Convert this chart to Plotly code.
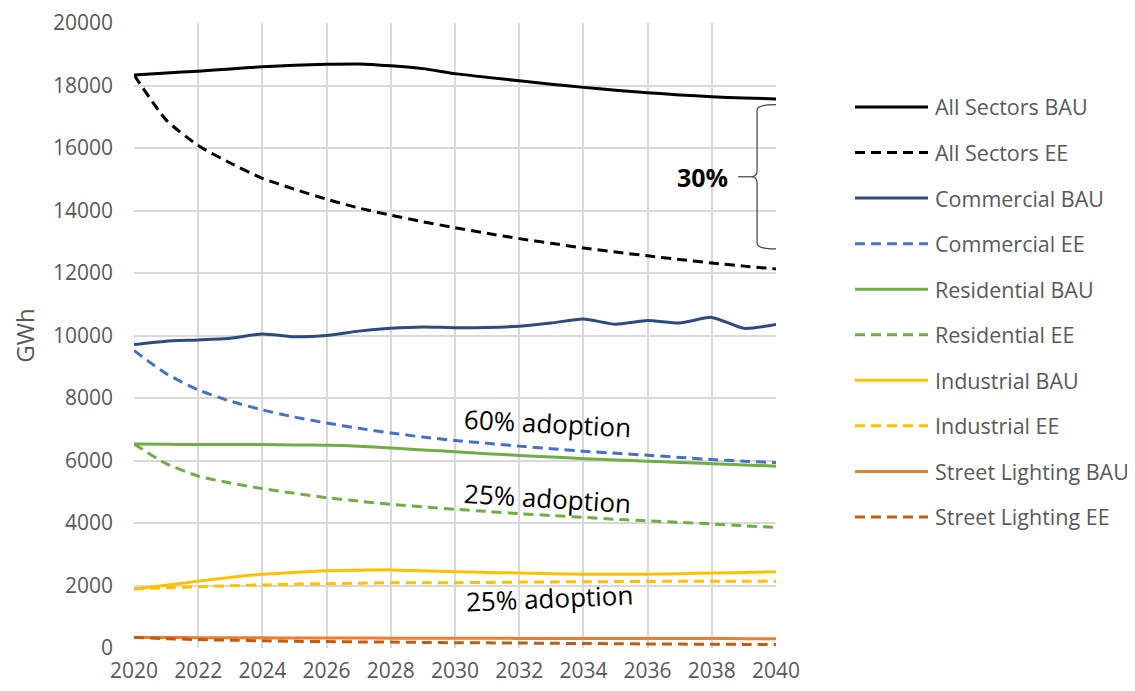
import plotly.graph_objects as go

years = list(range(2020, 2041))

all_bau = [18340, 18400, 18460, 18530, 18600, 18650, 18680, 18690, 18630, 18540, 18380,
           18260, 18150, 18040, 17940, 17850, 17770, 17700, 17640, 17600, 17570]
all_ee = [18340, 16900, 16080, 15520, 15030, 14680, 14360, 14080, 13850, 13640, 13450,
          13270, 13100, 12950, 12800, 12670, 12550, 12430, 12320, 12220, 12130]
com_bau = [9714, 9820, 9860, 9915, 10050, 9960, 10000, 10140, 10230, 10275, 10250,
           10260, 10300, 10400, 10530, 10360, 10480, 10400, 10580, 10230, 10350]
com_ee = [9520, 8780, 8260, 7900, 7620, 7390, 7200, 7030, 6880, 6750, 6640,
          6550, 6460, 6380, 6300, 6230, 6170, 6100, 6030, 5980, 5930]
res_bau = [6530, 6520, 6510, 6510, 6510, 6500, 6490, 6460, 6400, 6340, 6280,
           6220, 6160, 6110, 6060, 6020, 5980, 5940, 5900, 5860, 5820]
res_ee = [6530, 5900, 5500, 5280, 5100, 4950, 4810, 4700, 4600, 4520, 4440,
          4370, 4300, 4240, 4180, 4120, 4070, 4020, 3970, 3910, 3860]
ind_bau = [1890, 2010, 2140, 2260, 2360, 2420, 2470, 2490, 2500, 2470, 2440,
           2420, 2400, 2380, 2360, 2360, 2360, 2380, 2400, 2420, 2440]
ind_ee = [1890, 1930, 1960, 1990, 2020, 2040, 2060, 2075, 2090, 2090, 2090,
          2100, 2110, 2115, 2120, 2125, 2130, 2135, 2140, 2140, 2140]
st_bau = [340, 335, 330, 328, 325, 323, 320, 318, 316, 314, 312,
          310, 308, 306, 305, 304, 303, 302, 301, 300, 300]
st_ee = [340, 300, 270, 250, 230, 215, 205, 195, 190, 180, 170,
         165, 160, 150, 145, 138, 130, 125, 120, 115, 110]

names = ["All Sectors BAU", "All Sectors EE", "Commercial BAU", "Commercial EE",
         "Residential BAU", "Residential EE", "Industrial BAU", "Industrial EE",
         "Street Lighting BAU", "Street Lighting EE"]
values = [all_bau, all_ee, com_bau, com_ee, res_bau, res_ee, ind_bau, ind_ee, st_bau, st_ee]
colors = ["#000000", "#000000", "#2F4A7F", "#4472C4", "#70AD47", "#70AD47",
          "#FFC000", "#FFC000", "#ED7D31", "#C55A11"]
DASH = "10px,6px"
dashes = ["solid", DASH] * 5

x_ticks = list(range(2020, 2041, 2))
y_ticks = list(range(0, 20001, 2000))

# The page body adds an 8px margin; size the figure so it fills the window.
OFF = 8
W, H = 1135 - OFF, 691 - OFF
L, R, T, B = 134 - OFF, 776 - OFF, 23 - OFF, 648 - OFF  # plot area in figure pixels

def px_x(p):
    return (p - OFF - L) / (R - L)

def px_y(p):
    return (B - (p - OFF)) / (B - T)

fig = go.Figure()
for name, vals, color, dash in zip(names, values, colors, dashes):
    fig.add_trace(go.Scatter(
        x=years, y=vals, name=name, mode="lines",
        line=dict(color=color, width=3, dash=dash, shape="spline", smoothing=0.6),
        showlegend=False,
    ))

font_family = "Open Sans, Lato, DejaVu Sans, sans-serif"
gray = "#595959"

fig.update_layout(
    width=W, height=H,
    margin=dict(l=L, r=W - R, t=T, b=H - B),
    paper_bgcolor="white", plot_bgcolor="white",
    font=dict(family=font_family, color=gray, size=18),
    showlegend=False,
    xaxis=dict(
        range=[2020, 2040], tickvals=x_ticks, ticktext=[str(v) for v in x_ticks],
        showgrid=True, gridcolor="#d9d9d9", gridwidth=1.5,
        zeroline=False, showline=False, ticks="", automargin=False,
        tickfont=dict(size=21, color=gray), ticklabelstandoff=8,
        ticklabeloverflow="allow",
    ),
    yaxis=dict(
        range=[0, 20000], tickvals=y_ticks, ticktext=[str(v) for v in y_ticks],
        showgrid=True, gridcolor="#d9d9d9", gridwidth=1.5,
        zeroline=False, showline=False, ticks="", automargin=False,
        tickfont=dict(size=21, color=gray), ticklabelstandoff=20,
        ticklabeloverflow="allow",
        title=dict(text="GWh", font=dict(size=24, color=gray), standoff=17),
    ),
)

# Manual legend (long line samples as in the reference)
leg_y0, leg_step = 107, 45.55
for i, (name, color, dash) in enumerate(zip(names, colors, dashes)):
    yy = px_y(leg_y0 + i * leg_step)
    fig.add_shape(type="line", xref="paper", yref="paper",
                  x0=px_x(855), x1=px_x(928), y0=yy, y1=yy,
                  line=dict(color=color, width=3, dash=dash))
    fig.add_annotation(xref="paper", yref="paper", x=px_x(933), y=yy, text=name,
                       showarrow=False, xanchor="left", yanchor="middle",
                       font=dict(size=21.5, color=gray, family=font_family))

# Brace showing the 30% gap at 2040
top = all_bau[-1] - 180
bot = all_ee[-1] + 640
mid = (top + bot) / 2
xs, xt, xm = 2039.41, 2040.0, 2039.19
r = 180
path = (f"M {xt},{top} Q {xs},{top} {xs},{top - r} L {xs},{mid + r} "
        f"Q {xs},{mid} {xm},{mid} Q {xs},{mid} {xs},{mid - r} "
        f"L {xs},{bot + r} Q {xs},{bot} {xt},{bot}")
fig.add_shape(type="path", path=path, xref="x", yref="y",
              line=dict(color="#404040", width=1.2))
fig.add_shape(type="line", x0=2038.82, x1=xm, y0=mid, y1=mid, xref="x", yref="y",
              line=dict(color="#404040", width=1.2))
fig.add_annotation(x=2037.7, y=mid, text="<b>30%</b>", showarrow=False,
                   font=dict(size=25, color="#000000", family=font_family))

labels = [
    ("60% adoption", 2032.87, 7200, 3),
    ("25% adoption", 2032.87, 4800, 3.5),
    ("25% adoption", 2032.93, 1600, -2.5),
]
for txt, x, y, ang in labels:
    fig.add_annotation(x=x, y=y, text=txt, showarrow=False, textangle=ang,
                       font=dict(size=26, color="#000000", family=font_family))

fig.write_html("out.html")
